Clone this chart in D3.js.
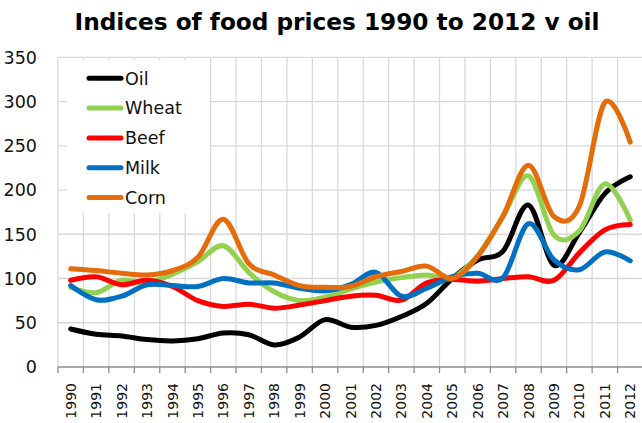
<!DOCTYPE html>
<html>
<head>
<meta charset="utf-8">
<script src="https://cdn.jsdelivr.net/npm/d3@7"></script>
<style>
  html, body { margin: 0; padding: 0; background: #fff; }
  svg { display: block; }
</style>
</head>
<body>
<svg id="chart" width="642" height="423"></svg>
<script>
const years = ["1990","1991","1992","1993","1994","1995","1996","1997","1998","1999","2000","2001","2002","2003","2004","2005","2006","2007","2008","2009","2010","2011","2012"];
const oil   = [43, 37, 35, 31, 29.5, 32, 38.5, 36.5, 25, 34, 53.5, 45, 47, 57, 72, 100, 121, 131, 183, 115, 152, 196, 215];
const wheat = [90, 84, 98, 95, 105, 119, 137, 107, 85, 75, 79, 88, 96, 101, 104, 101, 126, 170, 216, 149, 154, 207, 166];
const beef  = [98, 102, 93, 98, 91, 75, 68.5, 71, 66.5, 70, 75, 80, 81, 75.5, 95, 99, 97, 100, 102, 98, 129, 155, 161];
const milk  = [92, 76, 80, 93, 92, 91, 100, 95, 95, 89, 86, 93, 107, 80, 89, 102, 106, 101, 162, 121, 110, 130, 120];
const corn  = [111, 109, 106, 104, 109, 124, 167, 117, 104, 92, 90, 91, 102, 108, 114, 100, 125, 171, 228, 170, 182, 299, 254];
const yTicks = [0, 50, 100, 150, 200, 250, 300, 350];
const seriesNames = ["Oil", "Wheat", "Beef", "Milk", "Corn"];
const seriesColors = ["#000000", "#92D050", "#FF0000", "#0070C0", "#E46C0A"];
const seriesData = [oil, wheat, beef, milk, corn];

const svg = d3.select("#chart");
const pLeft = 58, pRight = 643, pTop = 57.3, pBottom = 367;

const x = d3.scaleBand().domain(years).range([pLeft, pRight]).padding(0);
const y = d3.scaleLinear().domain([0, 350]).range([pBottom, pTop]);

// Title
svg.append("text")
  .attr("x", 337).attr("y", 30)
  .attr("text-anchor", "middle")
  .attr("font-family", "DejaVu Sans, Verdana, sans-serif")
  .attr("font-weight", "bold")
  .attr("font-size", 23)
  .attr("textLength", 525)
  .attr("lengthAdjust", "spacingAndGlyphs")
  .text("Indices of food prices 1990 to 2012 v oil");

// Grid
const grid = svg.append("g");
grid.selectAll("line.h").data(yTicks.filter(d => d > 0)).join("line")
  .attr("x1", pLeft).attr("x2", pRight)
  .attr("y1", d => y(d)).attr("y2", d => y(d))
  .attr("stroke", "#d9d9d9").attr("stroke-width", 1.3);
const bounds = years.map(d => x(d)).concat([pRight]);
grid.selectAll("line.v").data(bounds).join("line")
  .attr("x1", d => d).attr("x2", d => d)
  .attr("y1", pTop).attr("y2", pBottom)
  .attr("stroke", "#d9d9d9").attr("stroke-width", 1.3);

// Y axis labels
svg.append("g").selectAll("text").data(yTicks).join("text")
  .attr("x", 37).attr("y", d => y(d))
  .attr("dy", "0.36em")
  .attr("text-anchor", "end")
  .attr("font-family", "DejaVu Sans, Verdana, sans-serif")
  .attr("font-size", 17.5)
  .attr("fill", "#111")
  .text(d => d);

// X axis line and ticks
svg.append("line")
  .attr("x1", pLeft).attr("x2", pRight)
  .attr("y1", pBottom).attr("y2", pBottom)
  .attr("stroke", "#8c8c8c").attr("stroke-width", 1.3);
svg.append("g").selectAll("line").data(bounds).join("line")
  .attr("x1", d => d).attr("x2", d => d)
  .attr("y1", pBottom).attr("y2", pBottom + 6)
  .attr("stroke", "#8c8c8c").attr("stroke-width", 1.3);

// X labels
svg.append("g").selectAll("text").data(years).join("text")
  .attr("transform", d => `translate(${x(d) + x.bandwidth() / 2},383) rotate(-90)`)
  .attr("dy", "0.36em")
  .attr("text-anchor", "end")
  .attr("font-family", "DejaVu Sans, Verdana, sans-serif")
  .attr("font-size", 14)
  .attr("fill", "#111")
  .text(d => d);

// Lines
const line = d3.line()
  .x((d, i) => x(years[i]) + x.bandwidth() / 2)
  .y(d => y(d))
  .curve(d3.curveCardinal.tension(0));

svg.append("g").selectAll("path").data(seriesData).join("path")
  .attr("d", d => line(d))
  .attr("fill", "none")
  .attr("stroke", (d, i) => seriesColors[i])
  .attr("stroke-width", 5)
  .attr("stroke-linecap", "round")
  .attr("stroke-linejoin", "round");

// Legend
const lg = svg.append("g");
lg.append("rect")
  .attr("x", 67).attr("y", 60).attr("width", 142).attr("height", 153)
  .attr("fill", "#fff");
const rowY = i => 78.3 + i * 29.8;
lg.selectAll("line").data(seriesNames).join("line")
  .attr("x1", 89).attr("x2", 121)
  .attr("y1", (d, i) => rowY(i)).attr("y2", (d, i) => rowY(i))
  .attr("stroke", (d, i) => seriesColors[i])
  .attr("stroke-width", 5)
  .attr("stroke-linecap", "round");
lg.selectAll("text").data(seriesNames).join("text")
  .attr("x", 125).attr("y", (d, i) => rowY(i))
  .attr("dy", "0.36em")
  .attr("font-family", "DejaVu Sans, Verdana, sans-serif")
  .attr("font-size", 17.5)
  .attr("fill", "#111")
  .text(d => d);
</script>
</body>
</html>
